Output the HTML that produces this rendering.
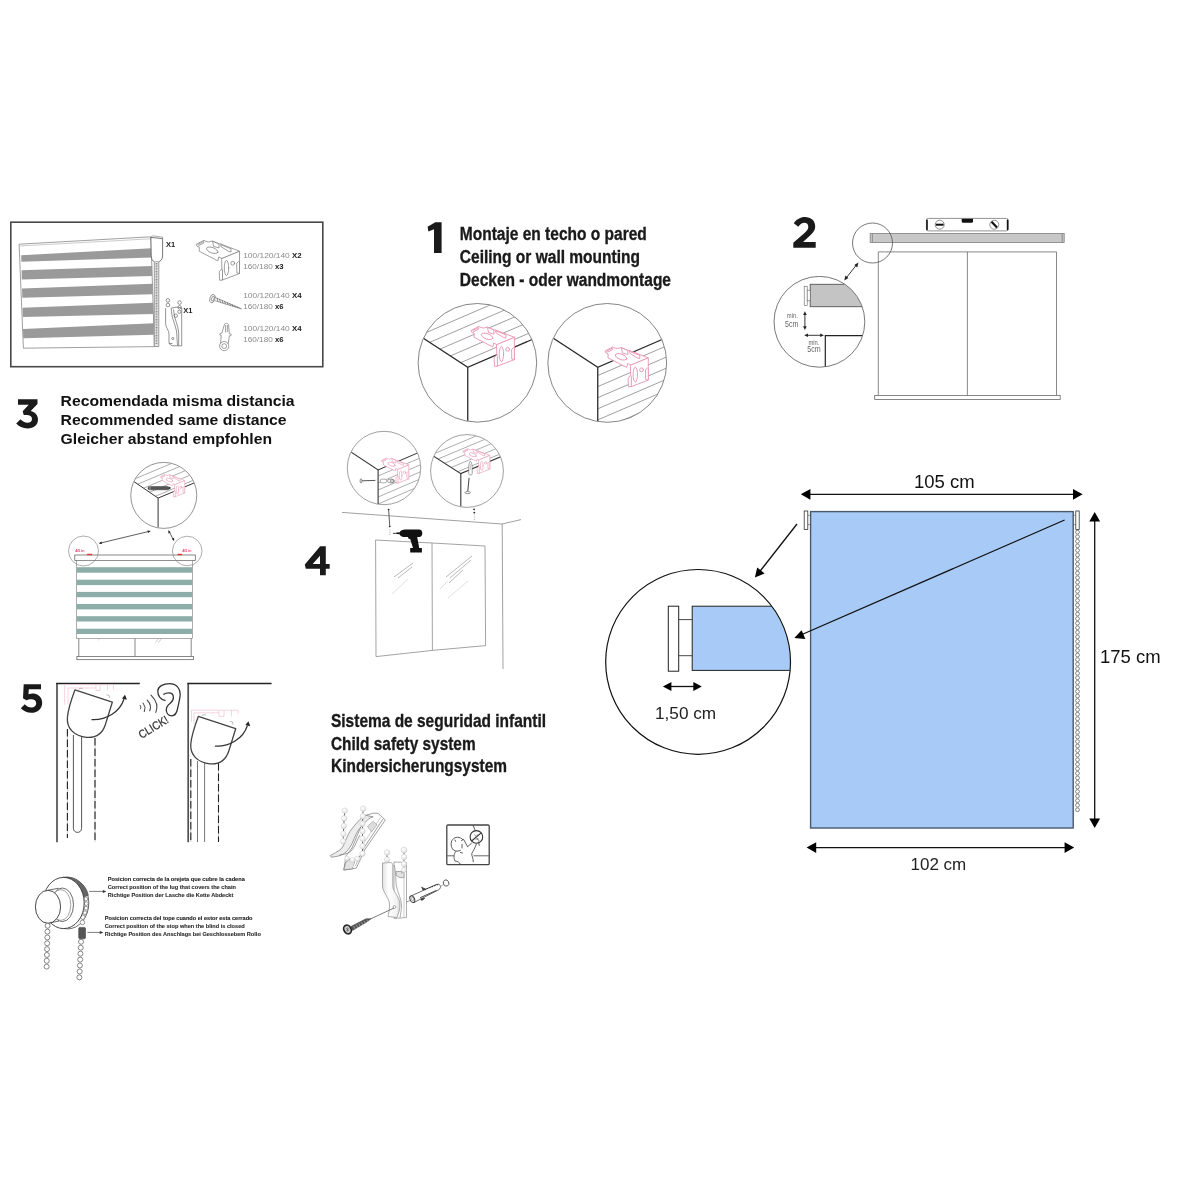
<!DOCTYPE html>
<html><head><meta charset="utf-8">
<style>
html,body{margin:0;padding:0;background:#fff;}
body{width:1200px;height:1200px;overflow:hidden;font-family:"Liberation Sans",sans-serif;}
svg{display:block;position:absolute;left:0;top:0;will-change:transform;}
text{font-family:"Liberation Sans",sans-serif;}
</style></head><body>
<svg width="1200" height="1200" viewBox="0 0 1200 1200">
<defs>
<!-- bracket symbol: local coords, approx 43x40 -->
<g id="brk" stroke-linejoin="round" stroke-linecap="round">
<path d="M6.5 12.25L14 8.25L15 9L18.5 10L22.5 9L29 11.75L31 12L49.5 19.25L32 26.5L30 25.5L28.75 24.9L28 28.75L27.2 28.5L9.25 19.25V15L7.5 14.5Z"/>
<path d="M32 26.5L49.5 19.25V41.5L32.5 48Z"/>
<path d="M29.5 39.5L31.5 37L32.5 38V48L30 48.25Z"/>
<path d="M47 31L48.75 29.5L49.5 30V41.5L47.25 41Z"/>
<path d="M8.2 12.3L13.6 9.5L14 10.8L9.2 13.3Z"/>
<path d="M23 9.4L29 12V16L24 14.5Z"/>
<path d="M31 12.8L41 16.8V20L38.5 19.3L31.5 15Z"/>
<ellipse cx="22.25" cy="18.25" rx="6" ry="2.7" transform="rotate(20 22.25 18.25)"/>
<ellipse cx="36.5" cy="36" rx="2.2" ry="7.5"/>
<circle cx="42.75" cy="31.25" r="1.9"/>
</g>
</defs>

<!-- ============ parts box ============ -->
<g id="secBox">
<rect x="10.8" y="222.2" width="312" height="144.5" fill="#fff" stroke="#484848" stroke-width="1.6"/>
<!-- blind -->
<path d="M19.1 244.2L150.9 236.8L154.4 346.6L23.4 348.2Z" fill="#fff" stroke="#777" stroke-width="0.7"/>
<path d="M19.3 246L151 238.8" stroke="#999" stroke-width="0.5" fill="none"/>
<g fill="#9a9a9a">
<path d="M21.2 255.3L151.6 248.2V257.5L21.4 261.7Z"/>
<path d="M21.6 270.2L152.2 266V275.9L21.8 279.4Z"/>
<path d="M22 288.6L152.7 283.7V294.3L22.3 297.8Z"/>
<path d="M22.5 307.7L153.2 302.8V314.1L22.8 317Z"/>
<path d="M23 329L153.7 323.3V334.7L23.2 338.2Z"/>
</g>
<path d="M150.9 237.4L162.6 238.6V256C162.6 259.5 160.2 261.4 158.3 262H154.6C152.6 261 151.4 259.5 151.2 256Z" fill="#fff" stroke="#555" stroke-width="0.8"/>
<path d="M150.9 237.4L152.4 235.8L162.9 237.2L162.6 238.6" fill="none" stroke="#777" stroke-width="0.6"/>
<path d="M154.3 262V346.5H158.8V262" fill="#e6e6e6" stroke="#777" stroke-width="0.7"/>
<path d="M156.5 263V344" stroke="#8a8a8a" stroke-width="1.8" stroke-dasharray="0.9 0.7" fill="none"/>
<!-- X1 labels -->
<text x="166" y="246.8" font-size="7.8" font-weight="bold" fill="#222" textLength="9.2" lengthAdjust="spacingAndGlyphs">X1</text>
<text x="183.2" y="313.2" font-size="7.8" font-weight="bold" fill="#222" textLength="9.2" lengthAdjust="spacingAndGlyphs">X1</text>
<!-- clip tensioner -->
<g fill="none" stroke="#666" stroke-width="0.7">
<circle cx="167.9" cy="300.4" r="1.8"/><circle cx="167.9" cy="305" r="1.8"/>
<circle cx="179.6" cy="302.6" r="1.8"/><circle cx="179.6" cy="307.3" r="1.7"/><circle cx="179.4" cy="311.8" r="1.6"/><circle cx="175.8" cy="315.7" r="1.7"/>
<path d="M165.6 308.2V323C165.6 328 169 330 169 334V343.5L172 345.8H181.7V308L177.6 307.1L171.3 308C171 318 176.5 326 176.8 334C177 339 177.2 342 177.6 345.5"/>
<path d="M173.5 309.5C173.5 318 178.5 325 178.7 333V345.6"/>
<path d="M169 343.5H172.5"/>
<circle cx="172.8" cy="338.5" r="1.1"/>
</g>
<!-- bracket -->
<use href="#brk" x="190" y="232" fill="#fff" stroke="#6e6e6e" stroke-width="0.65"/>
<!-- screw -->
<g fill="none" stroke="#777" stroke-width="0.7">
<ellipse cx="212.4" cy="298.6" rx="2.5" ry="4.4" transform="rotate(18 212.4 298.6)"/>
<ellipse cx="212.9" cy="298.6" rx="1.2" ry="2.6" transform="rotate(18 212.9 298.6)"/>
<path d="M214.8 297.2L241.5 308.9L214.5 300.6"/>
<path d="M217 298L218 301.5M219.5 299L220.5 302.5M222 300L223 303.3M224.5 301L225.5 304.2M227 302L228 305M229.5 303L230.5 305.8M232 304.2L233 306.6M234.5 305.3L235.5 307.4M237 306.4L238 308.1" stroke-width="0.9"/>
</g>
<!-- wall plug -->
<g fill="none" stroke="#777" stroke-width="0.7">
<circle cx="224.2" cy="346.1" r="4.6"/><circle cx="224.2" cy="346.1" r="2.4"/>
<path d="M220.5 343.4L221.3 335.5L219.8 335L220 333.6L221.8 333.2L224.5 324.2C225.5 323 227.8 323 228.6 324.6L229.3 333.6L231.2 334.2L231 335.6L229.4 335.8L228.2 343.8"/>
<path d="M225.6 325V332.5M227.4 325V332"/>
</g>
<!-- texts -->
<g font-size="8.1" fill="#8a8a8a">
<text x="243.2" y="258.3" textLength="46.6" lengthAdjust="spacingAndGlyphs">100/120/140</text>
<text x="243.2" y="269.3" textLength="29.6" lengthAdjust="spacingAndGlyphs">160/180</text>
<text x="243.2" y="298.2" textLength="46.6" lengthAdjust="spacingAndGlyphs">100/120/140</text>
<text x="243.2" y="309.3" textLength="29.6" lengthAdjust="spacingAndGlyphs">160/180</text>
<text x="243.2" y="330.8" textLength="46.6" lengthAdjust="spacingAndGlyphs">100/120/140</text>
<text x="243.2" y="342" textLength="29.6" lengthAdjust="spacingAndGlyphs">160/180</text>
</g>
<g font-size="8.1" font-weight="bold" fill="#1a1a1a">
<text x="292" y="258.3" textLength="9.6" lengthAdjust="spacingAndGlyphs">X2</text>
<text x="275" y="269.3" textLength="8.6" lengthAdjust="spacingAndGlyphs">x3</text>
<text x="292" y="298.2" textLength="9.6" lengthAdjust="spacingAndGlyphs">X4</text>
<text x="275" y="309.3" textLength="8.6" lengthAdjust="spacingAndGlyphs">x6</text>
<text x="292" y="330.8" textLength="9.6" lengthAdjust="spacingAndGlyphs">X4</text>
<text x="275" y="342" textLength="8.6" lengthAdjust="spacingAndGlyphs">x6</text>
</g>
</g>

<!-- ============ section 1 ============ -->
<defs>
<clipPath id="c1a"><circle cx="477.4" cy="362.8" r="59"/></clipPath>
<clipPath id="c1b"><circle cx="607.25" cy="362.9" r="59"/></clipPath>
<clipPath id="c1aH"><path d="M423.4 338.2L467.75 367.3L531.3 339.9L560 200H380Z"/></clipPath>
<clipPath id="c1bH"><path d="M597.75 367.3L661.3 339.9L700 339V440H597.75Z"/></clipPath>
</defs>
<g id="sec1">
<path d="M427.6 226.7L435.3 222.2H441.6V253.1H434V229.3L428.4 231.4Z" fill="#1a1a1a"/>
<g font-weight="bold" font-size="18" fill="#1a1a1a" stroke="#1a1a1a" stroke-width="0.35">
<text x="459.8" y="240.4" textLength="187" lengthAdjust="spacingAndGlyphs">Montaje en techo o pared</text>
<text x="459.8" y="263.2" textLength="180.2" lengthAdjust="spacingAndGlyphs">Ceiling or wall mounting</text>
<text x="459.8" y="286.2" textLength="211.2" lengthAdjust="spacingAndGlyphs">Decken - oder wandmontage</text>
</g>
<!-- circle A -->
<g clip-path="url(#c1a)">
<g clip-path="url(#c1aH)" stroke="#777" stroke-width="0.7" fill="none">
<path d="M410.0 339.5L550.0 279.2"/><path d="M410.0 350.8L550.0 290.5"/><path d="M410.0 362.0L550.0 301.7"/><path d="M410.0 373.3L550.0 313.0"/><path d="M410.0 384.5L550.0 324.2"/><path d="M410.0 395.8L550.0 335.5"/><path d="M410.0 407.0L550.0 346.7"/>
</g>
<path d="M418 334.7L467.75 367.3L540 336.1M467.75 367.3V425" stroke="#2a2a2a" stroke-width="1.3" fill="none"/>
</g>
<circle cx="477.4" cy="362.8" r="59.3" fill="none" stroke="#666" stroke-width="0.8"/>
<use href="#brk" x="464.9" y="318.1" fill="#fff" stroke="#e893b0" stroke-width="0.9"/>
<!-- circle B -->
<g clip-path="url(#c1b)">
<g clip-path="url(#c1bH)" stroke="#777" stroke-width="0.7" fill="none">
<path d="M597.8 375.5L680.0 340.1"/><path d="M597.8 386.6L680.0 351.2"/><path d="M597.8 397.7L680.0 362.3"/><path d="M597.8 408.8L680.0 373.4"/><path d="M597.8 419.9L680.0 384.5"/><path d="M597.8 431.0L680.0 395.6"/><path d="M597.8 442.0L680.0 406.6"/><path d="M597.8 453.0L680.0 417.6"/>
</g>
<path d="M548 334.7L597.75 367.3L670 336.1M597.75 367.3V425" stroke="#2a2a2a" stroke-width="1.3" fill="none"/>
</g>
<circle cx="607.25" cy="362.9" r="59.4" fill="none" stroke="#666" stroke-width="0.8"/>
<use href="#brk" x="598.8" y="338.6" fill="#fff" stroke="#e893b0" stroke-width="0.9"/>
</g>

<!-- ============ section 2 ============ -->
<defs><clipPath id="c2"><circle cx="819.4" cy="321.8" r="45.1"/></clipPath></defs>
<g id="sec2">
<path d="M793.8 223.2C796.5 219.5 800.5 217.1 804.8 217.1C811 217.1 815.2 220.8 815.2 226.2C815.2 230.5 813 232.8 809 236.5L803 242H815.7V247.7H793.3V242.8L804.5 233C807.3 230.5 808.3 229 808.3 226.7C808.3 224.3 806.7 222.8 804.4 222.8C802 222.8 800.3 224.2 798.3 226.8Z" fill="#1a1a1a"/>
<!-- level -->
<rect x="926.4" y="218.4" width="81.8" height="12.5" rx="2" fill="#fff" stroke="#777" stroke-width="0.8"/>
<path d="M927 220.2V229.4M1007.6 220.2V229.4" stroke="#111" stroke-width="1.6" stroke-linecap="round"/>
<circle cx="939.7" cy="224.7" r="4.5" fill="#fff" stroke="#666" stroke-width="0.7"/>
<path d="M935.8 224.7H943.6" stroke="#111" stroke-width="2"/>
<circle cx="994.3" cy="224.7" r="4.5" fill="#fff" stroke="#666" stroke-width="0.7"/>
<path d="M991.6 221.8L997 227.6" stroke="#111" stroke-width="2.2"/>
<path d="M961.7 218.8H973V221.6C973 222.4 972.4 222.8 971.8 222.8H962.9C962.3 222.8 961.7 222.4 961.7 221.6Z" fill="#111"/>
<!-- window -->
<g fill="none" stroke="#6a6a6a" stroke-width="0.8">
<path d="M878.3 395.5V251.9H1056.5V395.5M967.4 251.9V395.5"/>
<rect x="874.7" y="395.5" width="185.5" height="4" fill="#fff"/>
</g>
<!-- bar -->
<rect x="870.2" y="233.5" width="194" height="9" fill="#c8c8c8" stroke="#808080" stroke-width="0.8"/>
<path d="M872.4 233.8V242.4M1062.2 233.8V242.4" stroke="#777" stroke-width="0.7"/>
<circle cx="872.5" cy="243" r="20" fill="none" stroke="#555" stroke-width="0.8"/>
<!-- arrow -->
<path d="M856.6 264.8L846 278.2" stroke="#222" stroke-width="0.9"/>
<path d="M858.4 262.6L857.3 267.4L854.3 265Z M844.3 280.4L845.4 275.6L848.4 278Z" fill="#222"/>
<!-- big circle -->
<g clip-path="url(#c2)">
<rect x="810.2" y="284.3" width="70" height="22.4" fill="#c4c4c4" stroke="#555" stroke-width="0.9"/>
<path d="M825.3 370V335.6H870" fill="none" stroke="#222" stroke-width="1.2"/>
</g>
<circle cx="819.4" cy="321.8" r="45.4" fill="none" stroke="#555" stroke-width="0.8"/>
<rect x="804.2" y="286.3" width="3" height="19.2" fill="#fff" stroke="#666" stroke-width="0.6"/>
<rect x="807.2" y="290.2" width="3" height="10.6" fill="#fff" stroke="#666" stroke-width="0.6"/>
<path d="M804.9 313.6V327.6" stroke="#222" stroke-width="0.9"/>
<path d="M804.9 311.2L806.7 315H803.1Z M804.9 330.1L806.7 326.3H803.1Z" fill="#222"/>
<path d="M806.6 335.3H821.6" stroke="#222" stroke-width="0.9"/>
<path d="M804.2 335.3L808 333.5V337.1Z M824 335.3L820.2 333.5V337.1Z" fill="#222"/>
<g fill="#666">
<text x="786.8" y="317.8" font-size="7.5" textLength="11" lengthAdjust="spacingAndGlyphs">min.</text>
<text x="785" y="326.5" font-size="9" textLength="13.4" lengthAdjust="spacingAndGlyphs">5cm</text>
<text x="808.4" y="344.6" font-size="7.5" textLength="11" lengthAdjust="spacingAndGlyphs">min.</text>
<text x="807.2" y="352.4" font-size="9" textLength="13.4" lengthAdjust="spacingAndGlyphs">5cm</text>
</g>
</g>

<!-- ============ section 3 ============ -->
<defs>
<clipPath id="c3"><circle cx="163.75" cy="495.4" r="32.7"/></clipPath>
<clipPath id="c3H"><path d="M134.4 481.9L158.1 498.1L193.75 483.1L210 440H120Z"/></clipPath>
</defs>
<g id="sec3">
<path d="M18 399.2H37.5V404L30.7 411C35.3 412 38 415.5 38 419.5C38 424.8 33.8 428.4 27.7 428.4C22.5 428.4 18.8 426.5 16.2 423.5L20.5 419.3C22.6 421.5 24.8 422.7 27.6 422.7C30.2 422.7 32 421.3 32 419C32 416.4 29.6 415 26 415H23.7L22.7 411.2L28.7 404.7H18Z" fill="#1a1a1a"/>
<g font-weight="bold" font-size="15.3" fill="#111">
<text x="60.6" y="406.2" textLength="234" lengthAdjust="spacingAndGlyphs">Recomendada misma distancia</text>
<text x="60.6" y="425.2" textLength="226" lengthAdjust="spacingAndGlyphs">Recommended same distance</text>
<text x="60.6" y="443.7" textLength="211.4" lengthAdjust="spacingAndGlyphs">Gleicher abstand empfohlen</text>
</g>
<!-- top circle -->
<g clip-path="url(#c3)">
<g clip-path="url(#c3H)" stroke="#777" stroke-width="0.6" fill="none">
<path d="M125.0 483.0L205.0 449.4"/><path d="M125.0 489.5L205.0 455.9"/><path d="M125.0 496.0L205.0 462.4"/><path d="M125.0 502.5L205.0 468.9"/><path d="M125.0 509.0L205.0 475.4"/><path d="M125.0 515.5L205.0 481.9"/><path d="M125.0 522.0L205.0 488.4"/>
</g>
<path d="M130 478.9L158.1 498.1L200 480.5M158.1 498.1V530" stroke="#333" stroke-width="1" fill="none"/>
</g>
<circle cx="163.75" cy="495.4" r="33" fill="none" stroke="#666" stroke-width="0.7"/>
<g transform="translate(157 469.8) scale(0.56)"><use href="#brk" fill="#fff" stroke="#e99bb6" stroke-width="1.05"/></g>
<rect x="148" y="486.4" width="21" height="3.4" rx="1.6" fill="#555" stroke="#333" stroke-width="0.5"/>
<path d="M169 486.6L171.2 488.1L169 489.6Z" fill="#333"/>
<path d="M150 486.4V489.8" stroke="#ddd" stroke-width="0.6"/>
<!-- arrows -->
<path d="M100 543.2L149.4 531.3" stroke="#333" stroke-width="0.8"/>
<path d="M98.6 543.5L101.4 541.5L102 544Z M150.8 531L148 533L147.4 530.5Z" fill="#222"/>
<path d="M169 531.2L173.5 540" stroke="#333" stroke-width="0.8"/>
<path d="M168.4 530L170.6 532.4L168.4 533.5Z M174.1 541.2L171.9 538.8L174.1 537.7Z" fill="#222"/>
<!-- small circles -->
<!-- cassette and blind -->
<rect x="74.8" y="555" width="120.5" height="5.6" fill="#fff" stroke="#555" stroke-width="0.7"/>
<rect x="76.3" y="560.6" width="116.2" height="78" fill="#fff" stroke="#777" stroke-width="0.6"/>
<g fill="#8dada9">
<rect x="76.6" y="567.2" width="115.6" height="5.5"/>
<rect x="76.6" y="579.7" width="115.6" height="5.4"/>
<rect x="76.6" y="591.9" width="115.6" height="5.3"/>
<rect x="76.6" y="604" width="115.6" height="5.4"/>
<rect x="76.6" y="616.2" width="115.6" height="5.3"/>
<rect x="76.6" y="628.7" width="115.6" height="5.3"/>
</g>
<g fill="none" stroke="#555" stroke-width="0.7">
<path d="M78.8 638.6V656.5M191.2 638.6V656.5M135 638.6V656.5"/>
<rect x="76.9" y="656.5" width="116.6" height="3.2" fill="#fff"/>
<path d="M98 640.3L99.6 638.8M155.5 642.5L158.3 639M158.5 642.5L161.3 639" stroke="#999" stroke-width="0.5"/>
</g>
<circle cx="83.5" cy="551" r="15" fill="none" stroke="#777" stroke-width="0.6"/>
<circle cx="187.2" cy="551" r="14.8" fill="none" stroke="#777" stroke-width="0.6"/>
<!-- red marks -->
<rect x="86.9" y="553.7" width="5.4" height="1.6" rx="0.7" fill="#e03a3a"/>
<rect x="177.4" y="553.7" width="4.8" height="1.6" rx="0.7" fill="#e03a3a"/>
<text x="75.2" y="552.2" font-size="3.2" font-weight="bold" fill="#e0406a" textLength="9.4" lengthAdjust="spacingAndGlyphs">4/5 in</text>
<text x="182.3" y="552.2" font-size="3.2" font-weight="bold" fill="#e0406a" textLength="9" lengthAdjust="spacingAndGlyphs">4/5 in</text>
</g>

<!-- ============ section 4 ============ -->
<defs>
<clipPath id="c4a"><circle cx="384" cy="468" r="36.4"/></clipPath>
<clipPath id="c4b"><circle cx="467" cy="471" r="36.1"/></clipPath>
<clipPath id="c4aH"><path d="M378.1 469.9L416.6 453.4L440 452V520H378.1Z"/></clipPath>
<clipPath id="c4bH"><path d="M433.75 456.2L460.8 473.6L499.75 457.1L520 400H420Z"/></clipPath>
</defs>
<g id="sec4">
<path fill-rule="evenodd" d="M320.2 546.2H325.8V564H329.7V568.7H325.8V575.2H320V568.7H305.8L304.8 564.5ZM320 555.7L312.7 564H320Z" fill="#1a1a1a"/>
<!-- circle A (wall hatch) -->
<g clip-path="url(#c4a)">
<g clip-path="url(#c4aH)" stroke="#777" stroke-width="0.6" fill="none">
<path d="M378.1 476.0L430.0 453.7"/><path d="M378.1 483.0L430.0 460.7"/><path d="M378.1 490.0L430.0 467.7"/><path d="M378.1 497.0L430.0 474.7"/><path d="M378.1 504.0L430.0 481.7"/><path d="M378.1 511.0L430.0 488.7"/><path d="M378.1 518.0L430.0 495.7"/><path d="M378.1 525.0L430.0 502.7"/>
</g>
<path d="M345 448L378.1 469.9L425 449.8M378.1 469.9V508" stroke="#333" stroke-width="1.1" fill="none"/>
</g>
<circle cx="384" cy="468" r="36.7" fill="none" stroke="#777" stroke-width="0.7"/>
<g transform="translate(377.6 452.8) scale(0.63)"><use href="#brk" fill="#fff" stroke="#e99bb6" stroke-width="1.05"/></g>
<ellipse cx="361" cy="480.9" rx="0.9" ry="2.2" fill="none" stroke="#444" stroke-width="0.6"/>
<path d="M362 480.8L375.4 480.4" stroke="#444" stroke-width="0.9"/>
<rect x="380.4" y="479.2" width="6" height="3.6" rx="1" fill="#fff" stroke="#777" stroke-width="0.6"/>
<ellipse cx="391" cy="481" rx="3.6" ry="1.9" fill="#fff" stroke="#666" stroke-width="0.6"/>
<ellipse cx="392" cy="481" rx="1.8" ry="1.2" fill="none" stroke="#555" stroke-width="0.6"/>
<!-- circle B (ceiling hatch) -->
<g clip-path="url(#c4b)">
<g clip-path="url(#c4bH)" stroke="#777" stroke-width="0.6" fill="none">
<path d="M425.0 457.5L510.0 421.8"/><path d="M425.0 464.5L510.0 428.8"/><path d="M425.0 471.5L510.0 435.8"/><path d="M425.0 478.5L510.0 442.8"/><path d="M425.0 485.5L510.0 449.8"/><path d="M425.0 492.5L510.0 456.8"/><path d="M425.0 499.5L510.0 463.8"/>
</g>
<path d="M428 452.5L460.8 473.6L505 454.9M460.8 473.6V510" stroke="#333" stroke-width="1.1" fill="none"/>
</g>
<circle cx="467" cy="471" r="36.4" fill="none" stroke="#777" stroke-width="0.7"/>
<g transform="translate(459.1 443.5) scale(0.62)"><use href="#brk" fill="#fff" stroke="#e99bb6" stroke-width="1.05"/></g>
<path d="M470.4 461.2C472 462.5 472.3 466 472.2 470V473.5C472.2 474.6 471.2 475 470.4 475C469.4 475 468.7 474.6 468.7 473.5V470C468.5 466 469 462.5 470.4 461.2Z" fill="#fff" stroke="#666" stroke-width="0.6"/>
<path d="M470.3 464V470" stroke="#888" stroke-width="0.5"/>
<path d="M469.1 477.8L467.8 491" stroke="#444" stroke-width="1"/>
<ellipse cx="467.7" cy="492.6" rx="2.7" ry="1.1" fill="#fff" stroke="#444" stroke-width="0.6"/>
<!-- ceiling + wall -->
<path d="M342 512.4L502 524L521 519.6M502.2 524L503 669" fill="none" stroke="#888" stroke-width="0.8"/>
<!-- arrows -->
<path d="M388.7 510.5L389.7 525.5" stroke="#333" stroke-width="0.8"/>
<circle cx="388.6" cy="509.6" r="0.9" fill="#222"/><circle cx="389.8" cy="526.3" r="0.9" fill="#222"/>
<path d="M389.9 529.5V535" stroke="#888" stroke-width="0.7" stroke-dasharray="1 1.2"/>
<circle cx="474.1" cy="509.3" r="0.9" fill="#222"/><circle cx="474.3" cy="512.6" r="0.9" fill="#222"/>
<path d="M474.4 514.5V520.5" stroke="#999" stroke-width="0.7" stroke-dasharray="1 1.2"/>
<!-- window -->
<path d="M375.6 540L432 543L485 546L485.6 645.6L432.4 650.4L376 656.6ZM432 543L432.4 650.4" fill="none" stroke="#8c8c8c" stroke-width="0.8"/>
<g fill="none" stroke-width="0.6">
<path d="M394 577L413 563M398 578L412 567" stroke="#888"/>
<path d="M392 594L408 579" stroke="#ccc"/>
<path d="M446 577L472 556M450 578L471 560M449 583L463 570" stroke="#888"/>
<path d="M448 598L468 581M440 589L448 581" stroke="#ccc"/>
</g>
<!-- drill -->
<g fill="#111">
<path d="M399.6 532.2C400.6 530.4 402.6 529.5 405 529.5H419C421.2 529.5 422.3 531 422.3 533.3C422.3 535.6 421.2 537 419 537H417.2L419.2 548H421.9V552.5H410.2V548H413L409.6 537H405C402.6 537 400.6 536.2 399.6 534.4Z"/>
<path d="M399.8 532.3L396.4 532.6V534L399.8 534.3Z"/>
<path d="M393 532.9H396.6V533.7H393Z"/>
<path d="M408 537H410.8L410.4 539.2L408.4 538.6Z"/>
</g>
</g>

<!-- ============ section 5 ============ -->
<defs>
<g id="cass">
<!-- cassette drawn at first position -->
<path d="M74.9 689.9L112.3 702.2L105.4 724.5C102.5 733.5 95.5 738 86.5 737.3C74.5 736.3 66.5 728.5 67.4 717.5C67.8 712 71.5 699 74.9 689.9Z" fill="#fff" stroke="#444" stroke-width="1.3" stroke-linejoin="round"/>
<path d="M91.5 719.6C106 720.5 120 712 124 699" fill="none" stroke="#333" stroke-width="1.25"/>
<path d="M125 694.8L126.9 699.8L122 698.6Z" fill="#222"/>
<path d="M78.5 689.5L80.2 688.2L82.5 688.6M106.5 694.8L109 695.4L109.6 698" fill="none" stroke="#777" stroke-width="0.5"/>
</g>
</defs>
<g id="sec5">
<path d="M23.7 684.2H41V689.3H28.8L28.5 694.2C30.7 693.5 32.7 693.3 34 693.6C38.7 694.3 42.2 698 42.2 702.7C42.2 708.7 37.7 712.8 31.5 712.8C27 712.8 23.3 711 20.8 708.3L24.8 704.2C26.8 706.3 29 707.5 31.5 707.5C34.3 707.5 36.2 705.8 36.2 703.3C36.2 700.7 34.2 699.2 31.3 699.2C29.3 699.2 27.7 699.7 26.3 700.3L23 698.2Z" fill="#1a1a1a"/>
<!-- frame 1 -->
<path d="M57 683V842.2" fill="none" stroke="#505050" stroke-width="1.7"/><path d="M56.2 683.5H139.8" fill="none" stroke="#222" stroke-width="1.4"/>
<g fill="none" stroke="#efb9cb" stroke-width="0.6">
<path d="M64.6 704.8V684.6H113.5V689.5M68 704.8V688H96M96 685V690.5H100V685M107.5 684.6V690.5"/>
</g>
<!-- chains 1 -->
<path d="M67.4 729V838" stroke="#999" stroke-width="0.5"/>
<path d="M67.4 729V838" stroke="#222" stroke-width="1.1" stroke-dasharray="7.5 3"/>
<path d="M95 738V842" stroke="#999" stroke-width="0.5"/>
<path d="M95 738V842" stroke="#222" stroke-width="1.1" stroke-dasharray="7.5 3"/>
<path d="M73.4 735V828.2C73.4 833.8 81.6 833.8 81.6 828.2V737" fill="none" stroke="#444" stroke-width="0.9"/>
<use href="#cass"/>
<!-- ear & click -->
<path d="M165 700.4C160.5 699.5 157.6 695.5 157.8 690.8C158 686.5 163 683.7 169.7 683.7C176.5 683.7 180.3 688.5 180.2 694.3C180.1 698.5 178.6 703.5 177.6 708.5C176.8 712.8 175 715.8 171.8 715.8C168.5 715.8 166.3 713.2 166.3 710C166.3 707 168 705 170 703.5C172 702 173.4 700.5 173.4 697.5C173.4 694.5 171.5 692.8 168.8 692.8C166.8 692.8 165 693.3 163.8 694.2" fill="none" stroke="#333" stroke-width="1.3" stroke-linecap="round"/>
<g fill="none" stroke="#444" stroke-linecap="round">
<path d="M140.3 705.4Q141.3 707.2 140.6 708.8" stroke-width="0.9"/>
<path d="M143.2 703Q146.5 707.5 144.4 711.6" stroke-width="1"/>
<path d="M147.2 700.1Q152.2 705.5 149.7 710.8" stroke-width="1.1"/>
<path d="M151 695.1Q159.5 703.5 155.8 712.4" stroke-width="1.1"/>
</g>
<text transform="translate(141.6 739) rotate(-31.5)" font-size="11.5" fill="#333" stroke="#333" stroke-width="0.25" textLength="32.5" lengthAdjust="spacingAndGlyphs">CLICK!</text>
<!-- frame 2 -->
<path d="M188.2 683V842.2" fill="none" stroke="#505050" stroke-width="1.7"/><path d="M187.4 683.5H271.6" fill="none" stroke="#222" stroke-width="1.4"/>
<g fill="none" stroke="#efb9cb" stroke-width="0.6">
<path d="M191.5 722V710.2H238.2V713.8M194 724V712.8H219M219 711V716.3H224V711M231.5 710.2V716.3"/>
</g>
<path d="M190.8 759V842" stroke="#999" stroke-width="0.5"/>
<path d="M190.8 759V842" stroke="#222" stroke-width="1.1" stroke-dasharray="7.5 3"/>
<path d="M218.5 763V842" stroke="#999" stroke-width="0.5"/>
<path d="M218.5 763V842" stroke="#222" stroke-width="1.1" stroke-dasharray="7.5 3"/>
<path d="M197.5 761V842M204.6 762V842" stroke="#555" stroke-width="0.8"/>
<use href="#cass" x="123.4" y="26.5"/>
</g>

<!-- ============ chain mechanism ============ -->
<g id="mech">
<!-- wheel: back rim -->
<ellipse cx="67.6" cy="903" rx="21.2" ry="25.9" fill="#fff" stroke="#444" stroke-width="0.8"/>
<!-- dark lug on rim top-right -->
<path d="M63 877.1C75 876.6 86.2 884 88.4 895.2L84 897C81.5 887.5 74 880.6 63 877.1Z" fill="#666" stroke="#444" stroke-width="0.5"/>
<!-- rim right side beads -->
<g fill="#fff" stroke="#555" stroke-width="0.6">
<circle cx="85.8" cy="899" r="1.9"/><circle cx="86.3" cy="903.6" r="1.9"/><circle cx="86" cy="908.2" r="1.9"/><circle cx="84.8" cy="912.7" r="1.9"/>
<circle cx="82.8" cy="917.2" r="2.2"/><circle cx="82.4" cy="922.4" r="2.3"/>
</g>
<!-- wheel face -->
<ellipse cx="63.6" cy="903" rx="20.6" ry="25.6" fill="#fff" stroke="#333" stroke-width="0.9"/>
<!-- hub ring -->
<ellipse cx="62.3" cy="904.8" rx="11.2" ry="16.8" fill="#fff" stroke="#444" stroke-width="0.8"/>
<ellipse cx="60.8" cy="905" rx="10" ry="15.4" fill="#fff" stroke="#666" stroke-width="0.6"/>
<path d="M48 890.2L58.5 888.3M48 923.3L59 921" stroke="#444" stroke-width="0.8" fill="none"/>
<!-- front disc -->
<ellipse cx="48" cy="906.8" rx="12.6" ry="16.5" fill="#fff" stroke="#333" stroke-width="0.9"/>
<!-- stopper -->
<rect x="78.7" y="927.4" width="6.8" height="11.4" rx="1.2" fill="#555" stroke="#333" stroke-width="0.5"/>
<!-- chains -->
<g fill="#fff" stroke="#555" stroke-width="0.7">
<circle cx="47.60" cy="925.80" r="2.5"/><circle cx="47.46" cy="931.63" r="2.5"/><circle cx="47.32" cy="937.46" r="2.5"/><circle cx="47.18" cy="943.29" r="2.5"/><circle cx="47.04" cy="949.12" r="2.5"/><circle cx="46.90" cy="954.95" r="2.5"/><circle cx="46.76" cy="960.78" r="2.5"/><circle cx="46.62" cy="966.61" r="2.5"/>
<circle cx="81.00" cy="941.80" r="2.5"/><circle cx="80.73" cy="947.73" r="2.5"/><circle cx="80.46" cy="953.66" r="2.5"/><circle cx="80.19" cy="959.59" r="2.5"/><circle cx="79.92" cy="965.52" r="2.5"/><circle cx="79.65" cy="971.45" r="2.5"/><circle cx="79.38" cy="977.38" r="2.5"/>
</g>
<!-- arrows -->
<path d="M89.2 891.4H104" stroke="#444" stroke-width="0.7"/>
<path d="M106.4 891.4L102.8 889.9V892.9Z" fill="#333"/>
<path d="M87.4 932.4H101" stroke="#444" stroke-width="0.7"/>
<path d="M103.4 932.4L99.8 930.9V933.9Z" fill="#333"/>
<!-- texts -->
<g font-size="6.1" font-weight="bold" fill="#222" stroke="#222" stroke-width="0.12">
<text x="107.8" y="880.8" textLength="137" lengthAdjust="spacingAndGlyphs">Posicion correcta de la orejeta que cubre la cadena</text>
<text x="107.8" y="889" textLength="128.2" lengthAdjust="spacingAndGlyphs" fill="#333">Correct position of the lug that covers the chain</text>
<text x="107.8" y="897.3" textLength="125.5" lengthAdjust="spacingAndGlyphs" fill="#333">Richtige Position der Lasche die Kette Abdeckt</text>
<text x="104.8" y="919.8" textLength="147.7" lengthAdjust="spacingAndGlyphs">Posicion correcta del tope cuando el estor esta cerrado</text>
<text x="104.8" y="927.7" textLength="139.9" lengthAdjust="spacingAndGlyphs" fill="#333">Correct position of the stop when the blind is closed</text>
<text x="104.8" y="935.8" textLength="156" lengthAdjust="spacingAndGlyphs" fill="#333">Richtige Position des Anschlags bei Geschlossebem Rollo</text>
</g>
</g>

<!-- ============ child safety ============ -->
<g id="child">
<g font-weight="bold" font-size="18.5" fill="#1a1a1a" stroke="#1a1a1a" stroke-width="0.35">
<text x="331" y="727" textLength="215" lengthAdjust="spacingAndGlyphs">Sistema de seguridad infantil</text>
<text x="331" y="749.6" textLength="144.6" lengthAdjust="spacingAndGlyphs">Child safety system</text>
<text x="331" y="772.4" textLength="176" lengthAdjust="spacingAndGlyphs">Kindersicherungsystem</text>
</g>
<!-- tilted clip -->
<g fill="#fff" stroke="#777" stroke-width="0.7" stroke-linejoin="round">
<!-- back plate -->
<path d="M365.6 815.3L373.8 813.1L378.1 813.4L385.3 820L365 849.4L356.3 868.1L352.5 868.8L343.8 870L345 862.5L345.6 856.3L352 848Z"/>
<path d="M383.1 818.8L363.8 848.1L354.8 866.5" fill="none"/>
<path d="M380.6 817.4L361.6 846.5" fill="none" stroke="#999" stroke-width="0.5"/>
<path d="M367.5 826.3L373.2 821.2L376.9 825L371.5 832Z" fill="#ddd" stroke="#888" stroke-width="0.5"/>
<!-- bottom tab -->
<path d="M345.6 862.5L343.8 870L352.5 868.8L355 861.9L350 859Z" fill="#e2e2e2"/>
<path d="M353.5 867.5L356.2 861.5" stroke="#fff" stroke-width="1.4" fill="none"/>
<!-- tongue -->
<path d="M330.3 855.6C334 853.5 337 852 340 850C344 846 345 842 346.3 838.8C347.5 836 348.5 833.5 350 831.3C353 827 356.5 823 360 819.4C362 817.5 363.8 816.2 365.6 815.3L373.1 816.9C371.5 817.3 370 818 368.8 818.8C365.5 821.5 362.5 825 360 828.1C358.5 830 357.3 831.8 356.3 833.8C354.5 837.5 353.5 840.5 351.9 843.8C349.5 848.5 347 851.5 343.8 853.8C340 856 335.5 856.8 331.3 857.2Z" fill="#ededed"/>
<path d="M339.4 855C343.5 854.5 347 853.8 350 851.9C353 849.5 354.8 846 356.3 842.5C357.3 840 358.5 837.5 360 835" fill="none"/>
</g>
<defs><radialGradient id="bead" cx="0.4" cy="0.35" r="0.7"><stop offset="0" stop-color="#fff"/><stop offset="0.6" stop-color="#eee"/><stop offset="1" stop-color="#cfcfcf"/></radialGradient></defs>
<g stroke="#555" stroke-width="0.9" fill="none">
<path d="M344.6 813.2L344.3 815.8M344 821L343.9 823.4M343.7 828.6L343.5 831.2M343.3 836.4L343.2 838.7"/>
<path d="M363 811.4L362.9 813.6M362.7 818.9L362.6 821.1M362.5 826.4V828.6M362.5 833.9V836.1M362.5 841.4V843.6M362.5 848.9V851.1M360.6 855.6L359.4 856.9"/>
</g>
<g fill="url(#bead)" stroke="#c4c4c4" stroke-width="0.4">
<circle cx="344.7" cy="810.6" r="2.7"/><circle cx="344.1" cy="818.4" r="2.7"/><circle cx="343.8" cy="825.9" r="2.7"/><circle cx="343.4" cy="833.8" r="2.7"/><circle cx="343.1" cy="841.3" r="2.7"/>
<circle cx="363.1" cy="808.7" r="2.8"/><circle cx="362.8" cy="816.2" r="2.7"/><circle cx="362.5" cy="823.7" r="2.7"/><circle cx="362.5" cy="831.2" r="2.7"/><circle cx="362.5" cy="838.7" r="2.7"/><circle cx="362.5" cy="846.2" r="2.7"/><circle cx="362.5" cy="853.7" r="2.7"/>
<circle cx="357.5" cy="858.7" r="2.6"/><circle cx="352.5" cy="860" r="2.5"/><circle cx="347" cy="858.4" r="2.4"/>
</g>
<!-- upright clip -->
<defs><linearGradient id="armG" x1="0" x2="1"><stop offset="0" stop-color="#e2e2e2"/><stop offset="0.35" stop-color="#fff"/><stop offset="0.8" stop-color="#f2f2f2"/><stop offset="1" stop-color="#d8d8d8"/></linearGradient></defs>
<g fill="#fff" stroke="#8a8a8a" stroke-width="0.7" stroke-linejoin="round">
<path d="M394 862L406.5 862.5V917.5L394 918.5Z"/>
<path d="M404 874V917.3" fill="none" stroke="#aaa" stroke-width="0.6"/>
<path d="M396 871.5H404V877.5C401.5 878.2 398.5 877.6 396.4 875.5Z" fill="#e4e4e4"/>
<path d="M394 865C396 870 395.5 880 396.4 886C397.3 892 401.3 898 401.5 905C401.6 910 400.5 914 400 917.5" fill="none"/>
<path d="M382.5 863L390.5 862.5C392 862.6 392.8 863.8 392.8 865.5V886C393 892 399.8 897 400 904C400.2 909 398.5 913 397 917.5L388 916.5C389 912 389.6 908 389.5 904C389.3 898 382.5 892 382.5 886Z" fill="url(#armG)"/>
<circle cx="394.5" cy="907" r="1.4" fill="#fff"/>
</g>
<g stroke="#555" stroke-width="0.9" fill="none">
<path d="M387 855.2V857M404 852.8V854.4M404 859.6V861.4M404 866.6V867.8M402.4 872.2L401.4 873.4"/>
</g>
<g fill="url(#bead)" stroke="#c4c4c4" stroke-width="0.4">
<circle cx="387" cy="852.5" r="2.8"/><circle cx="387" cy="859.6" r="2.6"/>
<circle cx="404" cy="850" r="2.9"/><circle cx="404" cy="857" r="2.7"/><circle cx="404" cy="864" r="2.7"/><circle cx="404" cy="870" r="2.5"/>
</g>
<!-- screw -->
<path d="M370 919.2L394 908" stroke="#444" stroke-width="0.7"/>
<path d="M351 926.4L366 918.8L370.8 918.8L367.5 921.6L352.6 930.4Z" fill="#555" stroke="#333" stroke-width="0.5" stroke-linejoin="round"/>
<path d="M353.6 926L355.2 929.2M356.2 924.7L357.8 927.9M358.8 923.4L360.4 926.6M361.4 922.1L363 925.3M364 920.8L365.6 924M366.6 919.6L368 922" stroke="#ddd" stroke-width="0.5"/>
<ellipse cx="347.5" cy="929.5" rx="3.6" ry="4.6" transform="rotate(-28 347.5 929.5)" fill="#ccc" stroke="#222" stroke-width="1.7"/>
<path d="M346 928L349 931M349 928.2L346.2 931M347.5 927.4V931.6" stroke="#555" stroke-width="0.6"/>
<!-- plug -->
<path d="M406.5 902L410.4 900.4" stroke="#555" stroke-width="0.6"/>
<path d="M411 896L436 884.6C438.5 883.8 441 884.6 440.4 887.6C440.2 888.6 439.6 889.2 438.6 889.8L414 902.5Z" fill="#fff" stroke="#444" stroke-width="0.8" stroke-linejoin="round"/>
<ellipse cx="412.3" cy="899.2" rx="2.2" ry="3.5" transform="rotate(-24 412.3 899.2)" fill="#fff" stroke="#333" stroke-width="1"/>
<ellipse cx="412.5" cy="899.2" rx="1" ry="1.9" transform="rotate(-24 412.5 899.2)" fill="none" stroke="#666" stroke-width="0.5"/>
<path d="M420 897.8L436.5 890.4" stroke="#333" stroke-width="0.9" fill="none"/>
<path d="M426.5 888.8L438 884.4" stroke="#333" stroke-width="1.1" stroke-dasharray="1.6 1.1" fill="none"/>
<path d="M421.4 887.2L426 889.4L422.6 890M420.6 899.2L424.6 898.4L421.6 900.6" stroke="#333" stroke-width="0.9" fill="#444" stroke-linejoin="round"/>
<path d="M441 886L443.6 884.6" stroke="#666" stroke-width="0.5"/>
<ellipse cx="446.1" cy="883" rx="2.7" ry="3.2" transform="rotate(-25 446.1 883)" fill="#fff" stroke="#444" stroke-width="0.8"/>
<!-- pictogram -->
<rect x="446.8" y="825" width="42.4" height="39.6" rx="1.2" fill="#fff" stroke="#444" stroke-width="1.3"/>
<path d="M446.8 855.8H453.8M473.6 855.8H489.2" stroke="#666" stroke-width="1"/>
<g fill="none" stroke="#333" stroke-width="0.8" stroke-linecap="round" stroke-linejoin="round">
<path d="M462.8 839.5C460 836.5 455 836.5 452.6 839.5C450.4 842.2 450.6 847.5 453.5 850C455.5 851.6 458.5 851.3 460.3 850.5"/>
<path d="M455 840L455.6 841.4M461.5 840.5L463.6 839.4L467.5 846.5"/>
<path d="M462 844.5V848M460.5 852.5L462.5 853"/>
<path d="M467.8 846.5L471.5 843.2M476.3 844.2C475.2 848 473 851 471.8 853.5C471.5 856 473.4 858 473.3 861.8"/>
<path d="M455.8 851.5C453.6 853.8 453.5 858 455 861C457.5 861.3 459.5 862.3 460.4 864.2"/>
<path d="M473.2 825.5L475.2 830.6"/>
<path d="M478.6 842L479.2 845.4M477 838.5L478.8 840.5"/>
</g>
<circle cx="476.4" cy="836.9" r="6.3" fill="none" stroke="#333" stroke-width="1.1"/>
<path d="M471.6 841L481.2 832.8" stroke="#333" stroke-width="1.1"/>
<path d="M474.5 834.5L476 836.5L478.5 834M475.5 839.5L478.5 838.5" stroke="#666" stroke-width="0.6" fill="none"/>
</g>

<!-- ============ SECTION R: measurement diagram ============ -->
<defs><clipPath id="cBig"><circle cx="698.1" cy="661.9" r="92"/></clipPath></defs>
<g id="secR">
<rect x="810.6" y="511.6" width="262.6" height="316.4" fill="#a7caf6" stroke="#4a586e" stroke-width="1.4"/>
<rect x="804.2" y="511" width="3.6" height="18.4" fill="#fff" stroke="#333" stroke-width="0.8"/>
<path d="M807.8 515.3H810.4M807.8 524.6H810.4" stroke="#555" stroke-width="0.6"/>
<rect x="1075.8" y="511" width="3.4" height="18.4" fill="#fff" stroke="#333" stroke-width="0.8"/>
<path d="M1073.4 515.3H1075.8M1073.4 524.6H1075.8" stroke="#555" stroke-width="0.6"/>
<g fill="#fff" stroke="#666" stroke-width="0.8">
<circle cx="1077.5" cy="532.20" r="1.9"/><circle cx="1077.5" cy="536.75" r="1.9"/><circle cx="1077.5" cy="541.30" r="1.9"/><circle cx="1077.5" cy="545.85" r="1.9"/><circle cx="1077.5" cy="550.40" r="1.9"/><circle cx="1077.5" cy="554.95" r="1.9"/><circle cx="1077.5" cy="559.50" r="1.9"/><circle cx="1077.5" cy="564.05" r="1.9"/><circle cx="1077.5" cy="568.60" r="1.9"/><circle cx="1077.5" cy="573.15" r="1.9"/><circle cx="1077.5" cy="577.70" r="1.9"/><circle cx="1077.5" cy="582.25" r="1.9"/><circle cx="1077.5" cy="586.80" r="1.9"/><circle cx="1077.5" cy="591.35" r="1.9"/><circle cx="1077.5" cy="595.90" r="1.9"/><circle cx="1077.5" cy="600.45" r="1.9"/><circle cx="1077.5" cy="605.00" r="1.9"/><circle cx="1077.5" cy="609.55" r="1.9"/><circle cx="1077.5" cy="614.10" r="1.9"/><circle cx="1077.5" cy="618.65" r="1.9"/><circle cx="1077.5" cy="623.20" r="1.9"/><circle cx="1077.5" cy="627.75" r="1.9"/><circle cx="1077.5" cy="632.30" r="1.9"/><circle cx="1077.5" cy="636.85" r="1.9"/><circle cx="1077.5" cy="641.40" r="1.9"/><circle cx="1077.5" cy="645.95" r="1.9"/><circle cx="1077.5" cy="650.50" r="1.9"/><circle cx="1077.5" cy="655.05" r="1.9"/><circle cx="1077.5" cy="659.60" r="1.9"/><circle cx="1077.5" cy="664.15" r="1.9"/><circle cx="1077.5" cy="668.70" r="1.9"/><circle cx="1077.5" cy="673.25" r="1.9"/><circle cx="1077.5" cy="677.80" r="1.9"/><circle cx="1077.5" cy="682.35" r="1.9"/><circle cx="1077.5" cy="686.90" r="1.9"/><circle cx="1077.5" cy="691.45" r="1.9"/><circle cx="1077.5" cy="696.00" r="1.9"/><circle cx="1077.5" cy="700.55" r="1.9"/><circle cx="1077.5" cy="705.10" r="1.9"/><circle cx="1077.5" cy="709.65" r="1.9"/><circle cx="1077.5" cy="714.20" r="1.9"/><circle cx="1077.5" cy="718.75" r="1.9"/><circle cx="1077.5" cy="723.30" r="1.9"/><circle cx="1077.5" cy="727.85" r="1.9"/><circle cx="1077.5" cy="732.40" r="1.9"/><circle cx="1077.5" cy="736.95" r="1.9"/><circle cx="1077.5" cy="741.50" r="1.9"/><circle cx="1077.5" cy="746.05" r="1.9"/><circle cx="1077.5" cy="750.60" r="1.9"/><circle cx="1077.5" cy="755.15" r="1.9"/><circle cx="1077.5" cy="759.70" r="1.9"/><circle cx="1077.5" cy="764.25" r="1.9"/><circle cx="1077.5" cy="768.80" r="1.9"/><circle cx="1077.5" cy="773.35" r="1.9"/><circle cx="1077.5" cy="777.90" r="1.9"/><circle cx="1077.5" cy="782.45" r="1.9"/><circle cx="1077.5" cy="787.00" r="1.9"/><circle cx="1077.5" cy="791.55" r="1.9"/><circle cx="1077.5" cy="796.10" r="1.9"/><circle cx="1077.5" cy="800.65" r="1.9"/><circle cx="1077.5" cy="805.20" r="1.9"/><circle cx="1077.5" cy="809.75" r="1.9"/>
</g>
<path d="M808 494.3H1075" stroke="#111" stroke-width="1.3"/>
<path d="M800.8 494.3L810.4 488.9V499.7Z M1082.6 494.3L1073 488.9V499.7Z" fill="#000"/>
<path d="M814 847.6H1066" stroke="#111" stroke-width="1.3"/>
<path d="M806.6 847.6L816.2 842.2V853Z M1074.2 847.6L1064.6 842.2V853Z" fill="#000"/>
<path d="M1094.7 520V820" stroke="#111" stroke-width="1.3"/>
<path d="M1094.7 512L1089.3 521.6H1100.1Z M1094.7 828L1089.3 818.4H1100.1Z" fill="#000"/>
<path d="M797 524L759 572.5" stroke="#111" stroke-width="1.3"/>
<path d="M754.9 577.4L757.2 567.6L764.6 573.4Z" fill="#000"/>
<path d="M1064.6 520L802 634.5" stroke="#111" stroke-width="1.3"/>
<path d="M794.3 637.9L801.6 630.2L805.4 638.9Z" fill="#000"/>
<g clip-path="url(#cBig)">
<rect x="692.2" y="606.2" width="120" height="64.2" fill="#a7caf6" stroke="#222" stroke-width="1"/>
</g>
<circle cx="698.1" cy="661.9" r="92.4" fill="none" stroke="#111" stroke-width="1.2"/>
<rect x="668.3" y="606.2" width="10.4" height="65" fill="#fff" stroke="#222" stroke-width="1"/>
<path d="M678.8 619.6H692.2M678.8 655.7H692.2" stroke="#333" stroke-width="0.9"/>
<path d="M669 686.5H696" stroke="#111" stroke-width="1.3"/>
<path d="M662.9 686.5L671.4 682V691Z M701.8 686.5L693.3 682V691Z" fill="#000"/>
<text x="655" y="719.2" font-size="17.2" fill="#222">1,50 cm</text>
<text x="914" y="487.6" font-size="18.5" fill="#111">105 cm</text>
<text x="1100" y="662.6" font-size="18.5" fill="#111">175 cm</text>
<text x="910.5" y="870" font-size="17" fill="#222">102 cm</text>
</g>

</svg>
</body></html>
